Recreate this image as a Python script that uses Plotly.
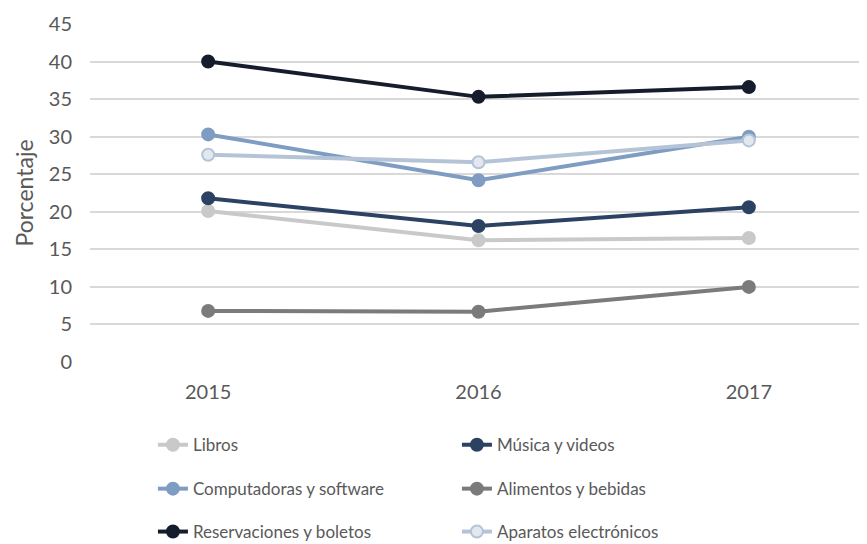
import plotly.graph_objects as go

# Data
years = ["2015", "2016", "2017"]

libros = [20.1, 16.2, 16.5]
musica = [21.8, 18.1, 20.6]
computadoras = [30.3, 24.2, 30.0]
alimentos = [6.8, 6.7, 10.0]
reservaciones = [40.0, 35.3, 36.6]
aparatos = [27.6, 26.6, 29.5]

y_ticks = [0, 5, 10, 15, 20, 25, 30, 35, 40, 45]

# name, values, line colour, marker fill, legend row
series = [
    ("Libros", libros, "#c9c9c9", "#c9c9c9", "legend"),
    ("Música y videos", musica, "#2c4262", "#2c4262", "legend"),
    ("Computadoras y software", computadoras, "#7f9cc2", "#7f9cc2", "legend2"),
    ("Alimentos y bebidas", alimentos, "#7b7b7b", "#7b7b7b", "legend2"),
    ("Reservaciones y boletos", reservaciones, "#151d2c", "#151d2c", "legend3"),
    ("Aparatos electrónicos", aparatos, "#b5c3d7", "#e2e8f0", "legend3"),
]

fig = go.Figure()
for name, vals, line_col, fill_col, leg in series:
    fig.add_trace(go.Scatter(
        x=years,
        y=vals,
        name=name,
        mode="lines+markers",
        line=dict(color=line_col, width=4),
        marker=dict(size=12, color=fill_col, line=dict(color=line_col, width=2)),
        legend=leg,
    ))

text_color = "#595959"
legend_common = dict(
    orientation="h",
    xanchor="left",
    yanchor="middle",
    x=0.081,
    entrywidth=259,
    font=dict(size=17, color=text_color, family="Lato"),
    bgcolor="rgba(0,0,0,0)",
)

# the page adds an 8px body margin, so the figure is shrunk to fit the window;
# autoexpand off so the legends below the plot don't squeeze it
fig.update_layout(
    width=859,
    height=536,
    margin=dict(l=82, r=0, t=16, b=182, autoexpand=False),
    paper_bgcolor="white",
    plot_bgcolor="white",
    font=dict(family="Lato", color=text_color),
    showlegend=True,
    legend=dict(legend_common, y=-0.246),
    legend2=dict(legend_common, y=-0.376),
    legend3=dict(legend_common, y=-0.503),
    xaxis=dict(
        type="category",
        range=[-0.437, 2.437],
        showgrid=False,
        showline=False,
        zeroline=False,
        ticks="",
        ticklabelstandoff=16,
        tickfont=dict(size=20, color=text_color),
    ),
    yaxis=dict(
        range=[0, 45],
        tickvals=y_ticks,
        showgrid=True,
        gridcolor="#d9d9d9",
        gridwidth=1.5,
        zeroline=False,
        showline=False,
        ticks="",
        ticklabelstandoff=17,
        tickfont=dict(size=20, color=text_color),
        title=dict(text="Porcentaje", font=dict(size=23, color=text_color), standoff=8),
    ),
)

fig.write_html("out.html")
